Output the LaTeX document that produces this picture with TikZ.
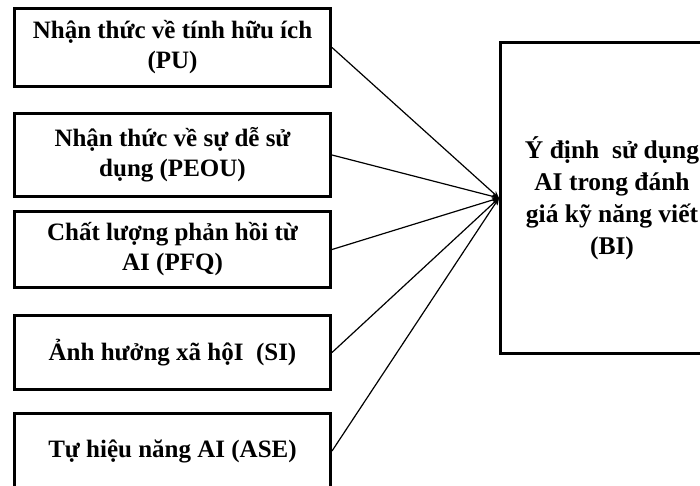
\documentclass[tikz,border=0pt]{standalone}
\usepackage{fontspec}
\setmainfont{Liberation Serif}
\usetikzlibrary{arrows.meta}
\begin{document}
\begin{tikzpicture}[x=1pt,y=-1pt,
  box/.style={draw=black, line width=3pt, fill=white, align=center, inner sep=0pt,
    font=\fontsize{25}{30}\selectfont\bfseries},
  lbox/.style={box, minimum width=316pt},
  conn/.style={line width=1.2pt, -{Stealth[length=7pt,width=6pt]}}]
\useasboundingbox (0,0) rectangle (700,486);
\node[lbox, minimum height=78pt] (pu) at (172.5,47.5) {Nhận thức về tính hữu ích\\(PU)};
\node[lbox, minimum height=83pt] (peou) at (172.5,155) {Nhận thức về sự dễ sử\\dụng (PEOU)};
\node[lbox, minimum height=76pt] (pfq) at (172.5,249.5) {Chất lượng phản hồi từ\\AI (PFQ)};
\node[lbox, minimum height=74pt] (si) at (172.5,352.5) {Ảnh hưởng xã hộI\ \ (SI)};
\node[lbox, minimum height=76pt] (ase) at (172.5,451) {Tự hiệu năng AI (ASE)};
\node[box, minimum width=223pt, minimum height=311pt, font=\fontsize{25.5}{32}\selectfont\bfseries] (bi) at (612,198) {Ý định\ \ sử dụng\\AI trong đánh\\giá kỹ năng viết\\(BI)};
\draw[conn] (pu.east) -- (bi.west);
\draw[conn] (peou.east) -- (bi.west);
\draw[conn] (pfq.east) -- (bi.west);
\draw[conn] (si.east) -- (bi.west);
\draw[conn] (ase.east) -- (bi.west);
\end{tikzpicture}
\end{document}
